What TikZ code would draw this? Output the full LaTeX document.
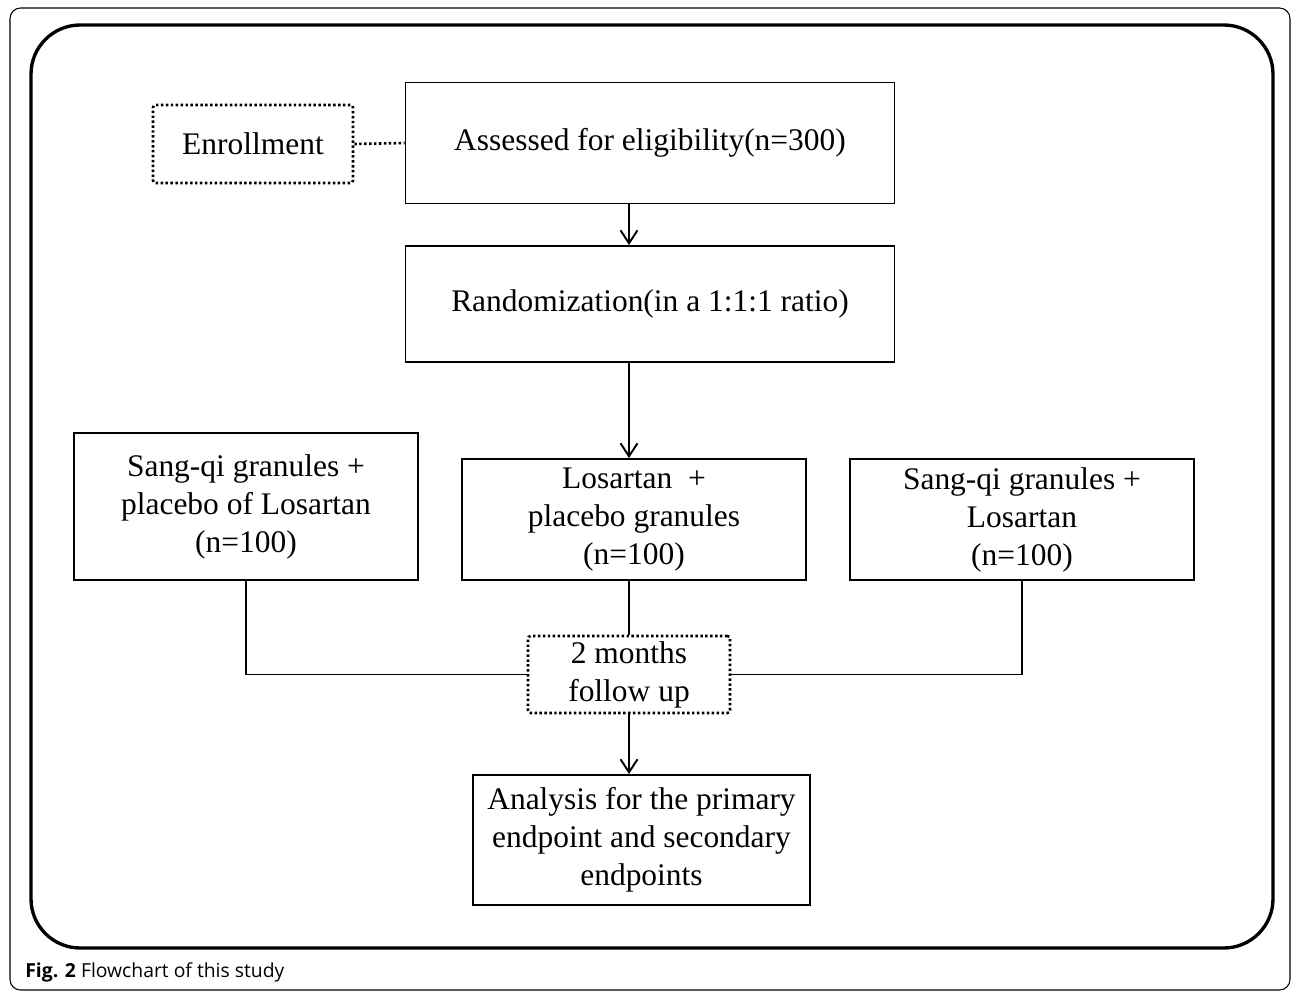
\documentclass[tikz,border=0pt]{standalone}
\usepackage{fontspec}
\setmainfont{Liberation Serif}
\newfontfamily\capfont{Open Sans}
\usetikzlibrary{arrows.meta,positioning}
\tikzset{
  box/.style={
    draw,
    line width=1.1pt,
    align=center,
    inner sep=2pt,
    font=\fontsize{17.9}{21.6}\selectfont
  },
  dotbox/.style={box, dash pattern=on 1.4pt off 1.4pt, line width=1.5pt, rounded corners=1.5pt},
  flow/.style={-{Straight Barb[length=2.6mm,width=3.4mm]}, line width=1.1pt},
  wire/.style={line width=1.1pt},
  dotwire/.style={line width=1.5pt, dash pattern=on 1.4pt off 1.4pt}
}
\begin{document}
\begin{tikzpicture}[x=0.2mm, y=-0.2mm]
    \useasboundingbox (0,0) rectangle (1293,993);
    % frames
    \draw[line width=0.6pt, rounded corners=6pt] (10,8) rectangle (1290,990);
    \draw[line width=1.9pt, rounded corners=28pt] (31,25) rectangle (1273,948);

    \node[dotbox, minimum width=40mm, minimum height=15.6mm] (enrol) at (253,144)
      {Enrollment};
    \node[box, minimum width=97.8mm, minimum height=24.2mm] (assess) at (650,143)
      {Assessed for eligibility(n=300)};
    \node[box, minimum width=97.8mm, minimum height=23.2mm] (random) at (650,304)
      {Randomization(in a 1:1:1 ratio)};

    \node[box, minimum width=68.8mm, minimum height=29.4mm] (armA) at (246,506.5)
      {Sang-qi granules +\\placebo of Losartan\\(n=100)};
    \node[box, minimum width=68.8mm, minimum height=24.2mm] (armB) at (634,519.5)
      {Losartan\ \ +\\placebo granules\\(n=100)};
    \node[box, minimum width=68.8mm, minimum height=24.2mm] (armC) at (1022,519.5)
      {Sang-qi granules +\\Losartan\\(n=100)};

    \node[dotbox, minimum width=40.4mm, minimum height=15.4mm] (follow) at (629,674.5)
      {2 months\\follow up};
    \node[box, minimum width=67.4mm, minimum height=26mm] (analysis) at (641.5,840)
      {Analysis for the primary\\endpoint and secondary\\endpoints};

    % connectors
    \draw[dotwire] (enrol.east) -- (assess.west);
    \draw[flow] (assess.south -| follow) -- (random.north -| follow);
    \draw[flow] (random.south -| follow) -- (armB.north -| follow);
    \draw[wire] (armB.south -| follow) -- (follow.north);
    \draw[wire] (armA.south) |- (follow.west);
    \draw[wire] (armC.south) |- (follow.east);
    \draw[flow] (follow.south) -- (analysis.north -| follow);

    \node[anchor=west, inner sep=0pt, font=\capfont\fontsize{11}{13}\selectfont]
      (caption) at (25,972) {\textbf{Fig. 2} Flowchart of this study};
\end{tikzpicture}
\end{document}
